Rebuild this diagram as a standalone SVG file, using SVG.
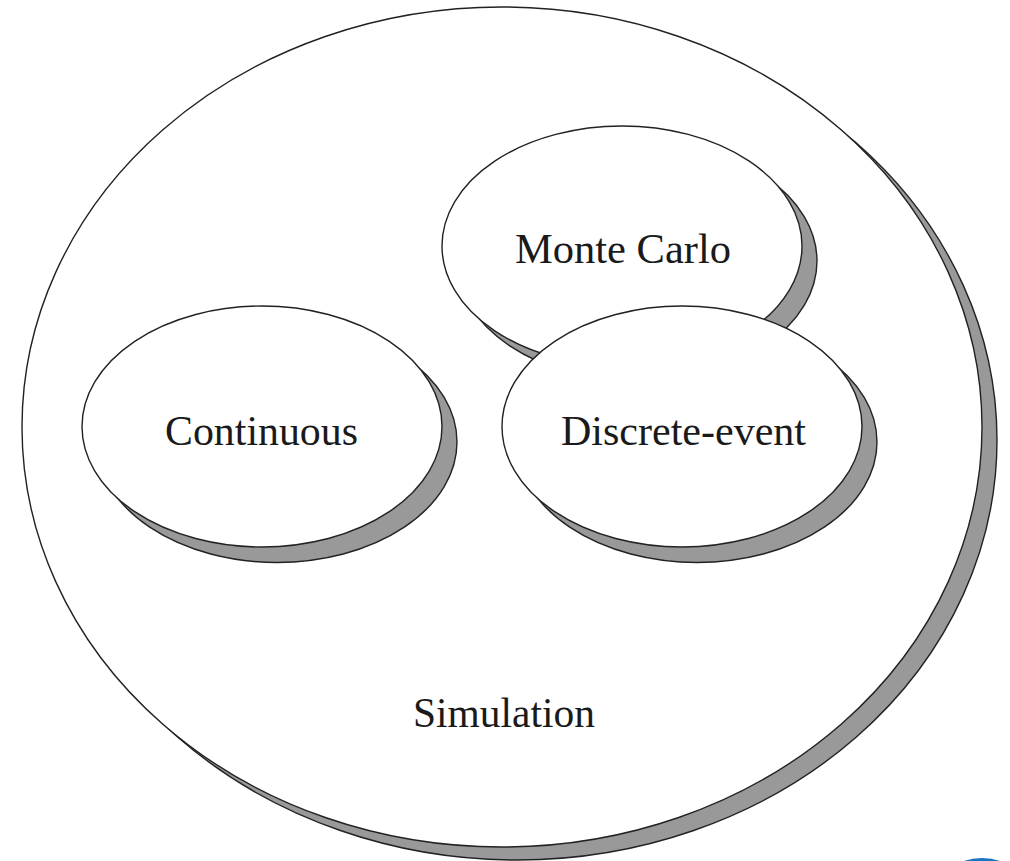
<svg xmlns="http://www.w3.org/2000/svg" width="1010" height="861" viewBox="0 0 1010 861">
<style>
.sh{fill:#999999;stroke:#222222;stroke-width:1.4}
.el{fill:#ffffff;stroke:#222222;stroke-width:1.4}
.lbl{font-family:"Liberation Serif","DejaVu Serif",serif;font-size:42px;fill:#1a1a1a;text-anchor:middle}
</style>
<rect width="1010" height="861" fill="#ffffff"/>
<g id="simulation">
<ellipse class="sh" cx="517" cy="440" rx="480" ry="420"/>
<ellipse class="el" cx="502" cy="427" rx="480" ry="420"/>
<text class="lbl" x="504" y="727" textLength="182" lengthAdjust="spacingAndGlyphs">Simulation</text>
</g>
<g id="monte-carlo">
<ellipse class="sh" cx="637" cy="261" rx="180" ry="120"/>
<ellipse class="el" cx="622" cy="246" rx="180" ry="120"/>
<text class="lbl" x="623" y="263" textLength="216" lengthAdjust="spacingAndGlyphs">Monte Carlo</text>
</g>
<g id="continuous">
<ellipse class="sh" cx="277" cy="442" rx="180" ry="120.5"/>
<ellipse class="el" cx="262" cy="426.5" rx="180" ry="120.5"/>
<text class="lbl" x="261.5" y="445" textLength="193" lengthAdjust="spacingAndGlyphs">Continuous</text>
</g>
<g id="discrete-event">
<ellipse class="sh" cx="697" cy="442" rx="180" ry="120.5"/>
<ellipse class="el" cx="682" cy="426.5" rx="180" ry="120.5"/>
<text class="lbl" x="683.5" y="445" textLength="245" lengthAdjust="spacingAndGlyphs">Discrete-event</text>
</g>
<g id="connectors"></g>
<circle cx="982" cy="915" r="57" fill="#1a73c2"/>
</svg>
